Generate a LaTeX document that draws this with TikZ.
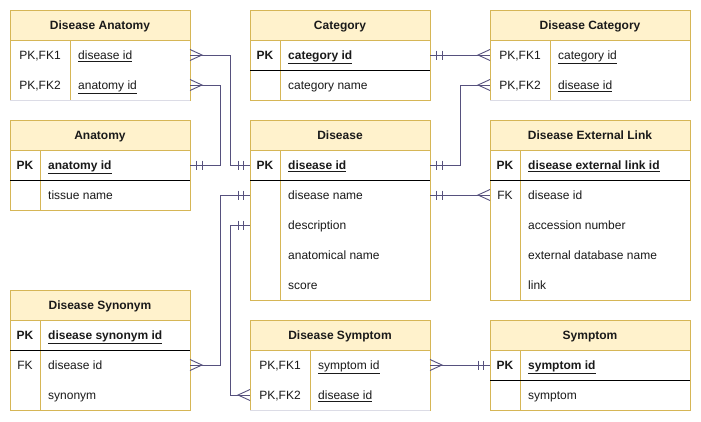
\documentclass[tikz,border=0pt]{standalone}
\usepackage{fontspec}
\setmainfont{Liberation Sans}
\usetikzlibrary{calc}
\definecolor{hdrfill}{HTML}{FFF2CC}
\definecolor{hdrdraw}{HTML}{D6B656}
\definecolor{connc}{HTML}{56517E}
\definecolor{lightedge}{HTML}{DCDCE6}
\definecolor{txtc}{HTML}{1A1A1A}
\tikzset{
  tblbox/.style={draw=hdrdraw, line width=0.9pt},
  hdrbox/.style={draw=hdrdraw, fill=hdrfill, line width=0.9pt, inner sep=0pt, outer sep=0pt,
    anchor=north west, minimum height=30pt, text height=8.6pt, text depth=0pt,
    font=\fontsize{12}{14}\selectfont\bfseries, text=txtc},
  rowcell/.style={inner sep=0pt, outer sep=0pt, minimum height=30pt, anchor=north west},
  keytext/.style={inner sep=0pt, anchor=base, text=txtc},
  valtext/.style={inner sep=0pt, anchor=base west, text=txtc},
  sepline/.style={draw=black, line width=0.9pt},
  lightline/.style={draw=lightedge, line width=0.9pt},
  conn/.style={draw=connc, line width=0.9pt},
}
% name, x, y, width, keywidth, key, value
\newcommand{\errow}[7]{%
  \node[rowcell, minimum width=#4pt] (#1) at (#2,#3) {};
  \node[keytext] (#1-k) at ($(#1.north west)+(#5/2,19.3)$) {#6};
  \node[valtext] (#1-v) at ($(#1.north west)+(#5+8,19.3)$) {#7};
}
% x, y, W, H, kw
\newcommand{\tblframe}[5]{%
  \draw[tblbox] (#1,#2+30) rectangle (#1+#3,#2+#4);
  \draw[tblbox] (#1+#5,#2+30) -- (#1+#5,#2+#4);
}
\newcommand{\mone}[2]{%
  \draw[conn] ($(#1)+(#2*6.5,-4.5)$) -- ++(0,9);
  \draw[conn] ($(#1)+(#2*12,-4.5)$) -- ++(0,9);
}
\newcommand{\mmany}[2]{%
  \draw[conn] ($(#1)+(0,-5.5)$) -- ($(#1)+(#2*12,0)$) -- ($(#1)+(0,5.5)$);
}
\begin{document}
\begin{tikzpicture}[x=1pt,y=-1pt, font=\fontsize{12}{14}\selectfont]
\useasboundingbox (0,0) rectangle (701,421);
\fill[white] (0,0) rectangle (701,421);

% Disease Anatomy
\node[hdrbox, minimum width=180pt] (da) at (10,10) {Disease Anatomy};
\errow{da1}{10}{40}{180}{60}{PK,FK1}{\underline{disease id}}
\errow{da2}{10}{70}{180}{60}{PK,FK2}{\underline{anatomy id}}
\tblframe{10}{10}{180}{90}{60}
\draw[lightline] (10,100) -- (190,100);

% Anatomy
\node[hdrbox, minimum width=180pt] (an) at (10,120) {Anatomy};
\errow{an1}{10}{150}{180}{30}{\bfseries PK}{\bfseries\underline{anatomy id}}
\errow{an2}{10}{180}{180}{30}{}{tissue name}
\tblframe{10}{120}{180}{90}{30}
\draw[sepline] (10,180) -- (190,180);

% Category
\node[hdrbox, minimum width=180pt] (cat) at (250,10) {Category};
\errow{cat1}{250}{40}{180}{30}{\bfseries PK}{\bfseries\underline{category id}}
\errow{cat2}{250}{70}{180}{30}{}{category name}
\tblframe{250}{10}{180}{90}{30}
\draw[sepline] (250,70) -- (430,70);

% Disease
\node[hdrbox, minimum width=180pt] (dis) at (250,120) {Disease};
\errow{dis1}{250}{150}{180}{30}{\bfseries PK}{\bfseries\underline{disease id}}
\errow{dis2}{250}{180}{180}{30}{}{disease name}
\errow{dis3}{250}{210}{180}{30}{}{description}
\errow{dis4}{250}{240}{180}{30}{}{anatomical name}
\errow{dis5}{250}{270}{180}{30}{}{score}
\tblframe{250}{120}{180}{180}{30}
\draw[sepline] (250,180) -- (430,180);

% Disease Category
\node[hdrbox, minimum width=200pt] (dc) at (490,10) {Disease Category};
\errow{dc1}{490}{40}{200}{60}{PK,FK1}{\underline{category id}}
\errow{dc2}{490}{70}{200}{60}{PK,FK2}{\underline{disease id}}
\tblframe{490}{10}{200}{90}{60}
\draw[lightline] (490,100) -- (690,100);

% Disease External Link
\node[hdrbox, minimum width=200pt] (del) at (490,120) {Disease External Link};
\errow{del1}{490}{150}{200}{30}{\bfseries PK}{\bfseries\underline{disease external link id}}
\errow{del2}{490}{180}{200}{30}{FK}{disease id}
\errow{del3}{490}{210}{200}{30}{}{accession number}
\errow{del4}{490}{240}{200}{30}{}{external database name}
\errow{del5}{490}{270}{200}{30}{}{link}
\tblframe{490}{120}{200}{180}{30}
\draw[sepline] (490,180) -- (690,180);

% Disease Synonym
\node[hdrbox, minimum width=180pt] (dsyn) at (10,290) {Disease Synonym};
\errow{dsyn1}{10}{320}{180}{30}{\bfseries PK}{\bfseries\underline{disease synonym id}}
\errow{dsyn2}{10}{350}{180}{30}{FK}{disease id}
\errow{dsyn3}{10}{380}{180}{30}{}{synonym}
\tblframe{10}{290}{180}{120}{30}
\draw[sepline] (10,350) -- (190,350);

% Disease Symptom
\node[hdrbox, minimum width=180pt] (dsym) at (250,320) {Disease Symptom};
\errow{dsym1}{250}{350}{180}{60}{PK,FK1}{\underline{symptom id}}
\errow{dsym2}{250}{380}{180}{60}{PK,FK2}{\underline{disease id}}
\tblframe{250}{320}{180}{90}{60}
\draw[lightline] (250,410) -- (430,410);

% Symptom
\node[hdrbox, minimum width=200pt] (sym) at (490,320) {Symptom};
\errow{sym1}{490}{350}{200}{30}{\bfseries PK}{\bfseries\underline{symptom id}}
\errow{sym2}{490}{380}{200}{30}{}{symptom}
\tblframe{490}{320}{200}{90}{30}
\draw[sepline] (490,380) -- (690,380);

% Connectors
\draw[conn] (da1.east) -- ++(40,0) |- (dis1.west);
\mmany{da1.east}{1} \mone{dis1.west}{-1}
\draw[conn] (da2.east) -- ++(30,0) |- (an1.east);
\mmany{da2.east}{1} \mone{an1.east}{1}
\draw[conn] (cat1.east) -- (dc1.west);
\mone{cat1.east}{1} \mmany{dc1.west}{-1}
\draw[conn] (dis1.east) -- ++(30,0) |- (dc2.west);
\mone{dis1.east}{1} \mmany{dc2.west}{-1}
\draw[conn] (dis2.east) -- (del2.west);
\mone{dis2.east}{1} \mmany{del2.west}{-1}
\draw[conn] (dsyn2.east) -- ++(30,0) |- (dis2.west);
\mmany{dsyn2.east}{1} \mone{dis2.west}{-1}
\draw[conn] (dsym2.west) -- ++(-20,0) |- (dis3.west);
\mmany{dsym2.west}{-1} \mone{dis3.west}{-1}
\draw[conn] (dsym1.east) -- (sym1.west);
\mmany{dsym1.east}{1} \mone{sym1.west}{-1}
\end{tikzpicture}
\end{document}
